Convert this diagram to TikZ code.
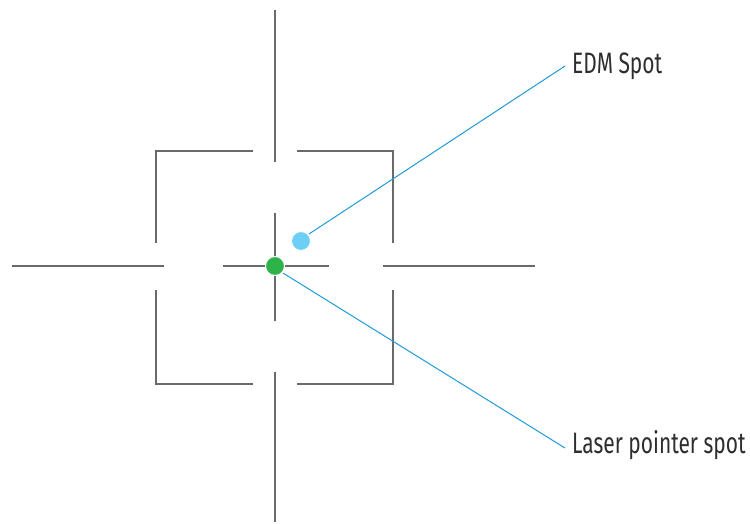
\documentclass[tikz,border=0pt]{standalone}
\usepackage{fontspec}
\setmainfont[FakeStretch=0.71]{Fira Sans}
\definecolor{reticle}{HTML}{6A6A6A}
\definecolor{leader}{HTML}{1E9BD7}
\definecolor{edmblue}{HTML}{6DCFF6}
\definecolor{lasergreen}{HTML}{2DB34A}
\definecolor{labeltext}{HTML}{2E2E2E}
\begin{document}
\begin{tikzpicture}[x=1pt,y=-1pt,
  ret/.style={draw=reticle,line width=2pt},
  lead/.style={draw=leader,line width=1pt},
  spot/.style={circle,inner sep=0pt,minimum size=19pt,draw=white,line width=1pt},
  lbl/.style={anchor=base west,inner sep=0pt,text=labeltext,font=\fontsize{29.5}{31}\selectfont}]
\useasboundingbox (0,0) rectangle (750,523);
% outer cross
\draw[ret] (275,10) -- (275,162);
\draw[ret] (275,372) -- (275,522);
\draw[ret] (12,266) -- (164,266);
\draw[ret] (383,266) -- (535,266);
% box corners
\draw[ret] (253,151) -- (156,151) -- (156,243);
\draw[ret] (297,151) -- (393,151) -- (393,243);
\draw[ret] (253,384) -- (156,384) -- (156,290);
\draw[ret] (297,384) -- (393,384) -- (393,290);
% inner cross
\draw[ret] (275,213) -- (275,321);
\draw[ret] (223,266) -- (329,266);
% spots
\node[spot,fill=edmblue] (edm) at (301,241) {};
\node[spot,fill=lasergreen] (laser) at (275,266) {};
% labels
\coordinate (edmend) at (565,66);
\coordinate (laserend) at (565,448);
\node[lbl] (edmlbl) at (572,73) {EDM Spot};
\node[lbl] (laserlbl) at (572,453) {Laser pointer spot};
\draw[lead] (edm.north east) ++(1,0) -- (edmend);
\draw[lead] (laser.south east) ++(1,0) -- (laserend);
\end{tikzpicture}
\end{document}
